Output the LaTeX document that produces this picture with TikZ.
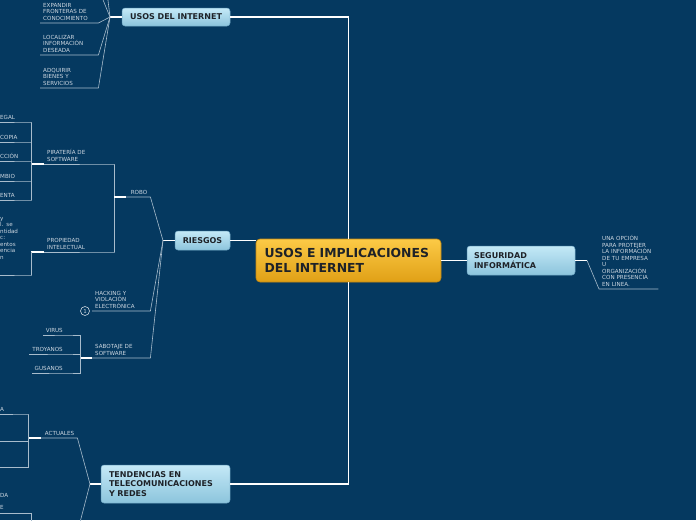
\documentclass[tikz,border=0pt]{standalone}
\usepackage{fontspec}
\setmainfont{DejaVu Sans}
\usetikzlibrary{positioning,calc}
\definecolor{MapBlue}{RGB}{5,57,96}
\definecolor{LineGray}{RGB}{168,188,204}
\definecolor{LeafText}{RGB}{205,215,225}
\definecolor{GoldTop}{RGB}{252,202,70}
\definecolor{GoldBot}{RGB}{224,160,22}
\definecolor{GoldEdge}{RGB}{196,136,18}
\definecolor{SkyTop}{RGB}{196,233,247}
\definecolor{SkyBot}{RGB}{140,196,220}
\definecolor{SkyEdge}{RGB}{110,165,195}
\definecolor{InkDark}{RGB}{30,34,40}

\begin{document}
\begin{tikzpicture}[x=1pt,y=-1pt,
  hub/.style={rectangle,rounded corners=4pt,top color=GoldTop,bottom color=GoldBot,draw=GoldEdge,line width=0.6pt,text=InkDark,font=\fontsize{12.4}{15}\selectfont\bfseries,align=left,text width=168pt,inner xsep=8.5pt,minimum height=43pt},
  topic/.style={rectangle,rounded corners=3pt,top color=SkyTop,bottom color=SkyBot,draw=SkyEdge,line width=0.5pt,text=InkDark,font=\fontsize{8}{9.8}\selectfont\bfseries,align=left},
  leaf/.style={font=\fontsize{5.6}{6.5}\selectfont,text=LeafText,align=left,inner xsep=3pt,inner ysep=2.5pt,anchor=south west},
  bright/.style={draw=white,line width=1.1pt},
  twig/.style={draw=LineGray,line width=0.6pt}
]
  \useasboundingbox (0,0) rectangle (696,520);
  \clip (0,0) rectangle (696,520);
  \fill[MapBlue] (0,0) rectangle (696,520);

  \node[hub] (central) at (348.5,260.5) {USOS E IMPLICACIONES\\DEL INTERNET};
  \node[topic,minimum width=108pt,minimum height=18pt] (usos) at (176,17) {USOS DEL INTERNET};
  \node[topic,minimum width=55pt,minimum height=19pt] (riesgos) at (202.5,240.5) {RIESGOS};
  \node[topic,text width=94pt,inner xsep=7pt,minimum height=29pt] (seguridad) at (521,260.5) {SEGURIDAD\\INFORMÁTICA};
  \node[topic,text width=113pt,inner xsep=8pt,minimum height=38pt] (tendencias) at (165.5,484) {TENDENCIAS EN\\TELECOMUNICACIONES\\Y REDES};

  \coordinate (jusos) at (110,17);
  \coordinate (jries) at (163,240.5);
  \coordinate (jseg) at (587,260.5);
  \coordinate (jten) at (90,484);

  \node[leaf,text width=52pt] (expandir) at (40,23) {EXPANDIR\\FRONTERAS DE\\CONOCIMIENTO};
  \node[leaf,text width=52pt] (localizar) at (40,55) {LOCALIZAR\\INFORMACIÓN\\DESEADA};
  \node[leaf,text width=52pt] (adquirir) at (40,88) {ADQUIRIR\\BIENES Y\\SERVICIOS};
  \coordinate (usosup1) at (99,-10);
  \coordinate (usosup2) at (107,-8);

  \node[leaf,align=right,text width=30pt] (robo) at (114,197) {ROBO};
  \node[leaf,text width=64pt] (pirateria) at (44,164) {PIRATERÍA DE\\SOFTWARE};
  \node[leaf,text width=64pt] (propiedad) at (44,252) {PROPIEDAD\\INTELECTUAL};
  \coordinate (jpir) at (31,164);
  \coordinate (jprop) at (31,252);
  \node[leaf,text width=28pt] (pir1) at (-3,122) {EGAL};
  \node[leaf,text width=28pt] (pir2) at (-3,142) {COPIA};
  \node[leaf,text width=28pt] (pir3) at (-3,161) {CCIÓN};
  \node[leaf,text width=28pt] (pir4) at (-3,181) {MBIO};
  \node[leaf,text width=28pt] (pir5) at (-3,200) {ENTA};
  \node[leaf,text width=28pt] (prop1) at (-3,275) {y\\l. se\\ntidad\\c:\\entos\\encia\\n\\\mbox{}\\\mbox{}};

  \node[leaf,text width=52pt] (hacking) at (92,311) {HACKING Y\\VIOLACIÓN\\ELECTRÓNICA};
  \node[circle,draw=LeafText,line width=0.6pt,inner sep=0pt,minimum size=9pt,text=LeafText,font=\fontsize{5.5}{5.5}\selectfont] (num) at (85,311) {1};
  \node[leaf,text width=52pt] (sabotaje) at (92,358) {SABOTAJE DE\\SOFTWARE};
  \coordinate (jsab) at (80,358);
  \node[leaf,anchor=south east] (virus) at (66,335) {VIRUS};
  \node[leaf,anchor=south east] (troyanos) at (66,354) {TROYANOS};
  \node[leaf,anchor=south east] (gusanos) at (66,373) {GUSANOS};

  \node[leaf,align=right,text width=30pt] (actuales) at (41,438) {ACTUALES};
  \coordinate (jact) at (28,438);
  \node[leaf,text width=25pt] (act1) at (-3,414) {A};
  \coordinate (act2) at (-5,441);
  \coordinate (act3) at (-5,467);
  \coordinate (ten2) at (78,530);
  \node[leaf,anchor=west] (frag1) at (-3,495) {DA};
  \node[leaf,anchor=west] (frag2) at (-3,507) {E};
  \coordinate (low1) at (-5,513);
  \coordinate (jlow) at (31,513);
  \coordinate (low2) at (31,525);

  \node[leaf,text width=53pt] (opcion) at (599,289) {UNA OPCIÓN\\PARA PROTEJER\\LA INFORMACIÓN\\DE TU EMPRESA\\U\\ORGANIZACIÓN\\CON PRESENCIA\\EN LINEA.};

  \draw[bright,line width=1.3pt] (usos.east) -| (central.north);
  \draw[bright,line width=1.3pt] (tendencias.east) -| (central.south);
  \draw[bright] (riesgos.east) -- (riesgos.east -| central.west);
  \draw[bright] (central.east) -- (seguridad.west);

  \draw[bright] (usos.west) -- (jusos);
  \draw[twig] (jusos) -- (expandir.south east) -- (expandir.south west);
  \draw[twig] (jusos) -- (localizar.south east) -- (localizar.south west);
  \draw[twig] (jusos) -- (adquirir.south east) -- (adquirir.south west);
  \draw[twig] (jusos) -- (usosup1);
  \draw[twig] (jusos) -- (usosup2);

  \draw[bright] (riesgos.west) -- (jries);
  \draw[twig] (jries) -- (robo.south east) -- (robo.south west);
  \draw[twig] (jries) -- (hacking.south east) -- (hacking.south west);
  \draw[twig] (jries) -- (sabotaje.south east) -- (sabotaje.south west);
  \draw[twig] (robo.south west) |- (pirateria.south east) -- (pirateria.south west);
  \draw[twig] (robo.south west) |- (propiedad.south east) -- (propiedad.south west);
  \draw[bright] (robo.south west) -- ++(12,0);
  \draw[bright] (pirateria.south west) -- (jpir);
  \draw[bright] (propiedad.south west) -- (jprop);
  \draw[bright] (sabotaje.south west) -- (jsab);
  \foreach \k in {pir1,pir2,pir3,pir4,pir5}
    \draw[twig] (jpir) |- (\k.south east) -- (\k.south west);
  \draw[twig] (jprop) |- (prop1.south east) -- (prop1.south west);
  \foreach \k in {virus,troyanos,gusanos}
    \draw[twig] (jsab) |- (\k.south east) -- (\k.south west);

  \draw[bright] (tendencias.west) -- (jten);
  \draw[twig] (jten) -- (actuales.south east) -- (actuales.south west);
  \draw[bright] (actuales.south west) -- (jact);
  \draw[twig] (jact) |- (act1.south east) -- (act1.south west);
  \draw[twig] (jact) |- (act2);
  \draw[twig] (jact) |- (act3);
  \draw[twig] (jten) -- (ten2);
  \draw[twig] (low1) -- (jlow) -- (low2);

  \draw[bright] (seguridad.east) -- (jseg);
  \draw[twig] (jseg) -- (opcion.south west) -- (opcion.south east);
\end{tikzpicture}
\end{document}
